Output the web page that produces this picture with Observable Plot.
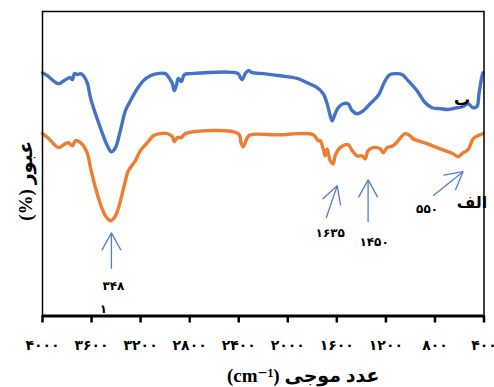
<!DOCTYPE html>
<html><head><meta charset="utf-8">
<script src="https://cdn.jsdelivr.net/npm/d3@7"></script>
<script src="https://cdn.jsdelivr.net/npm/@observablehq/plot@0.6"></script>
<style>body{margin:0;background:#fff}</style>
</head><body><div id="chart"></div>
<script>
// Curve "ب" (blue, upper)
const wnB = [4000,3959,3870,3813,3772,3756,3739,3715,3690,3666,3633,3609,3568,3511,3471,3438,3405,3365,3324,3283,3226,3177,3120,3063,2998,2974,2941,2925,2909,2892,2868,2843,2795,2404,2387,2371,2347,2322,2290,2200,2062,1923,1842,1760,1711,1679,1654,1638,1614,1589,1548,1508,1475,1434,1385,1328,1263,1206,1166,1109,1068,1019,946,881,824,758,693,620,571,530,489,457,441,416,408];
const tB  = [79.9,78.9,76.3,77.6,78.3,77.6,79.6,79.3,79.6,78.9,76.3,71.7,66.4,59.9,55.9,53.9,55.3,60.9,67.4,70.7,74.7,77.3,78.9,79.6,79.6,78.6,76.3,74.0,75.7,78.0,77.0,79.3,79.6,79.6,78.3,77.6,79.6,80.6,79.9,79.6,78.9,78.0,76.6,75.0,73.0,69.7,65.8,64.1,66.4,68.4,69.7,69.7,67.4,66.4,67.4,69.7,72.4,77.3,79.3,79.6,79.3,77.3,74.0,70.1,68.4,68.1,67.8,68.4,68.8,69.7,68.4,68.8,73.0,78.9,79.9];
// Curve "الف" (orange, lower)
const wnA = [4000,3959,3910,3870,3813,3788,3756,3731,3690,3666,3633,3609,3568,3528,3487,3446,3405,3365,3324,3300,3243,3202,3145,3096,3039,2982,2941,2925,2900,2868,2835,2404,2379,2363,2330,2306,2062,1923,1793,1752,1736,1711,1695,1679,1654,1630,1614,1573,1508,1475,1434,1394,1369,1345,1304,1247,1222,1190,1141,1100,1043,1003,978,864,758,653,612,571,530,489,449,408];
const tA  = [59.9,58.6,56.6,55.3,56.6,56.9,55.9,57.6,56.9,55.9,53.3,48.7,42.1,36.8,32.9,31.3,32.9,37.8,44.4,47.7,51.0,54.3,56.9,59.2,59.9,59.9,58.9,57.2,58.6,58.6,59.9,59.9,56.6,55.6,58.6,59.5,59.5,59.9,59.5,57.6,57.6,54.9,52.6,54.9,51.0,50.0,52.6,55.3,56.3,54.3,52.6,52.6,51.6,54.3,55.3,54.9,53.6,55.3,55.9,57.6,59.9,59.2,58.2,56.6,54.9,53.3,52.3,53.6,54.6,58.2,59.2,59.9];

const xTicks = [4000,3600,3200,2800,2400,2000,1600,1200,800,400];
const xTickLabels = ["۴۰۰۰","۳۶۰۰","۳۲۰۰","۲۸۰۰","۲۴۰۰","۲۰۰۰","۱۶۰۰","۱۲۰۰","۸۰۰","۴۰۰"];

// Peak arrows (tail -> tip) in wavenumber / transmittance units
const arrowWn1 = [3438,1687,1345,815];
const arrowT1  = [15.5,32.2,30.9,39.5];
const arrowWn2 = [3438,1597,1345,571];
const arrowT2  = [27.3,42.8,44.7,47.4];

// Peak labels
const peakText = ["۳۴۸","۱","۱۶۳۵","۱۴۵۰","۵۵۰"];
const peakWn   = [3422,3503,1654,1296,864];
const peakT    = [9.9,2.3,27.3,24.3,35.2];

// Curve names
const curveText = ["ب","الف"];
const curveWn   = [579,498];
const curveT    = [71.1,37.2];

const xLabel = "(cm⁻¹) عدد موجی";
const yLabel = "(%) عبور";

const blue = wnB.map((w,i)=>({wn:w,t:tB[i]}));
const orange = wnA.map((w,i)=>({wn:w,t:tA[i]}));
const arrows = arrowWn1.map((w,i)=>({x1:w,y1:arrowT1[i],x2:arrowWn2[i],y2:arrowT2[i]}));
const peaks = peakText.map((s,i)=>({s,wn:peakWn[i],t:peakT[i]}));
const names = curveText.map((s,i)=>({s,wn:curveWn[i],t:curveT[i]}));

const W=494,H=387,mL=42,mR=10.5,mT=11,mB=71.5;
const xDomain=[4000,400], yDomain=[0,100];
const xs = Plot.scale({x:{domain:xDomain,range:[mL,W-mR]}});
const ys = Plot.scale({y:{domain:yDomain,range:[H-mB,mT]}});
arrows.forEach(a=>{
  const dx = xs.apply(a.x2)-xs.apply(a.x1);
  const dy = ys.apply(a.y2)-ys.apply(a.y1);
  a.rot = Math.atan2(dx,-dy)*180/Math.PI;
});
const headShape = {draw(ctx,l){ctx.moveTo(-l*0.55,l);ctx.lineTo(0,0);ctx.lineTo(l*0.55,l);}};
const arrowColor = "#4f7fd0";

const chart = Plot.plot({
  width:W,height:H,marginLeft:mL,marginRight:mR,marginTop:mT,marginBottom:mB,
  style:{fontFamily:"DejaVu Sans",background:"#fff",color:"#000"},
  x:{domain:xDomain},
  y:{domain:yDomain,axis:null},
  marks:[
    Plot.line(blue,{x:"wn",y:"t",stroke:"#4472C4",strokeWidth:3.4,curve:"catmull-rom"}),
    Plot.line(orange,{x:"wn",y:"t",stroke:"#ED7D31",strokeWidth:3.4,curve:"catmull-rom"}),
    Plot.link(arrows,{x1:"x1",y1:"y1",x2:"x2",y2:"y2",stroke:arrowColor,strokeWidth:1.3}),
    Plot.vector(arrows,{x:"x2",y:"y2",rotate:"rot",length:17,anchor:"start",shape:headShape,stroke:arrowColor,strokeWidth:1.3,fill:"none"}),
    Plot.text(peaks,{x:"wn",y:"t",text:"s",fontSize:12,fontWeight:"bold",fill:"#000"}),
    Plot.text(names,{x:"wn",y:"t",text:"s",fontSize:16,fontWeight:"bold",fill:"#000"}),
    Plot.frame({stroke:"#000",strokeWidth:1.5}),
    Plot.ruleY([0],{stroke:"#000",strokeWidth:3}),
    Plot.axisX({ticks:xTicks,tickSize:7,tickPadding:17,strokeWidth:2.5,
      tickFormat:d=>xTickLabels[xTicks.indexOf(d)],fontSize:14,fontWeight:"bold",label:null}),
    Plot.text([xLabel],{frameAnchor:"bottom",dx:40,dy:60,fontSize:19,fontWeight:"bold",
      fontFamily:"Liberation Serif, DejaVu Sans",lineAnchor:"middle",textAnchor:"middle",fill:"#000"}),
    Plot.text([yLabel],{frameAnchor:"left",dx:-17,dy:17,rotate:-90,fontSize:19,fontWeight:"bold",
      fontFamily:"Liberation Serif, DejaVu Sans",lineAnchor:"middle",textAnchor:"middle",fill:"#000"})
  ]
});
document.getElementById("chart").append(chart);
</script>
</body></html>
